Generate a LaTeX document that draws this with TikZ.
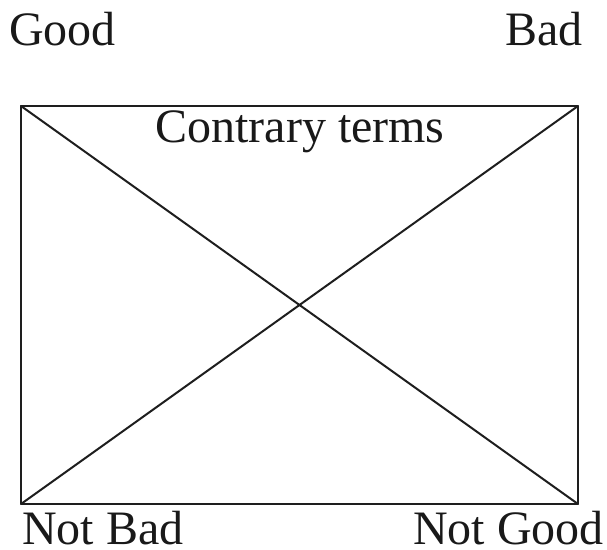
\documentclass[tikz,border=0pt]{standalone}
\usepackage{fontspec}
\setmainfont{Liberation Serif}
\usepackage{xcolor}
\usepackage{tikz}
\usetikzlibrary{positioning}
\definecolor{sqedge}{RGB}{30,30,30}
\definecolor{sqink}{RGB}{25,25,25}
\tikzset{
  term/.style={
    inner sep=0pt, text=sqink, font=\fontsize{48}{54}\selectfont
  },
  sqline/.style={draw=sqedge, line width=2pt, line cap=round, line join=round}
}

\begin{document}
\begin{tikzpicture}[x=1pt, y=-1pt]
  \useasboundingbox (0,0) rectangle (607,549);
  \coordinate (tl) at (21,106);
  \coordinate (tr) at (578,106);
  \coordinate (br) at (578,504);
  \coordinate (bl) at (21,504);
  \draw[sqline] (tl) -- (tr) -- (br) -- (bl) -- cycle;
  \draw[sqline] (tl) -- (br);
  \draw[sqline] (bl) -- (tr);
  \node[term, anchor=base west] (good) at (9,45) {Good};
  \node[term, anchor=base east] (bad) at (583,45) {Bad};
  \node[term, anchor=base] (contrary) at (300,142) {Contrary terms};
  \node[term, anchor=base west] (notbad) at (22,544) {Not Bad};
  \node[term, anchor=base west] (notgood) at (413,544) {Not Good};
\end{tikzpicture}
\end{document}
